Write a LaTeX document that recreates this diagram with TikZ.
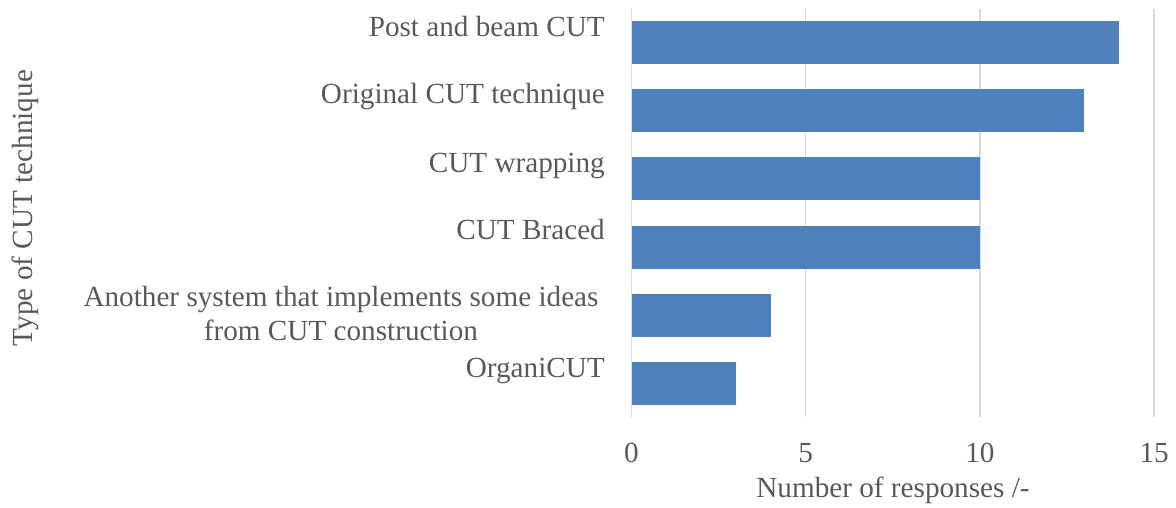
\documentclass[tikz,border=0pt]{standalone}
\usepackage{fontspec}
\setmainfont{Liberation Serif}
\definecolor{txt}{HTML}{595959}
\definecolor{grid}{HTML}{D9D9D9}
\definecolor{bar}{HTML}{4F81BD}
\begin{document}
\begin{tikzpicture}[x=1pt,y=-1pt,
  lbl/.style={text=txt,font=\fontsize{29.2}{34}\selectfont,inner sep=0pt},
  catlbl/.style={lbl,anchor=base east},
  ticklbl/.style={lbl,anchor=base},
  gridline/.style={draw=grid,line width=1.5pt},
  barbox/.style={fill=bar}]
\useasboundingbox (0,0) rectangle (1176,508);
% gridlines
\foreach \v in {0,5,10,15}{
  \draw[gridline] ({631.5+34.84*\v},9) -- ({631.5+34.84*\v},417);
  \node[ticklbl] (tick\v) at ({631.5+34.84*\v},462) {\v};
}
% bars
\foreach \v/\k in {14/0,13/1,10/2,10/3,4/4,3/5}{
  \fill[barbox] (631.5,{43+68*\k-21.5}) rectangle ({631.5+34.84*\v},{43+68*\k+21.5});
}
% category labels
\node[catlbl] (c1) at (605,37) {Post and beam CUT};
\node[catlbl] (c2) at (605,104) {Original CUT technique};
\node[catlbl] (c3) at (605,172) {CUT wrapping};
\node[catlbl] (c4) at (605,240) {CUT Braced};
\node[lbl,anchor=base,align=center] (c5) at (341,340) {Another system that implements some ideas\\from CUT construction};
\node[catlbl] (c6) at (605,377) {OrganiCUT};
% axis titles
\node[lbl,anchor=base] (xt) at (893,497) {Number of responses /-};
\node[lbl,rotate=90,anchor=base] (yt) at (32,208) {Type of CUT technique};
\end{tikzpicture}
\end{document}
